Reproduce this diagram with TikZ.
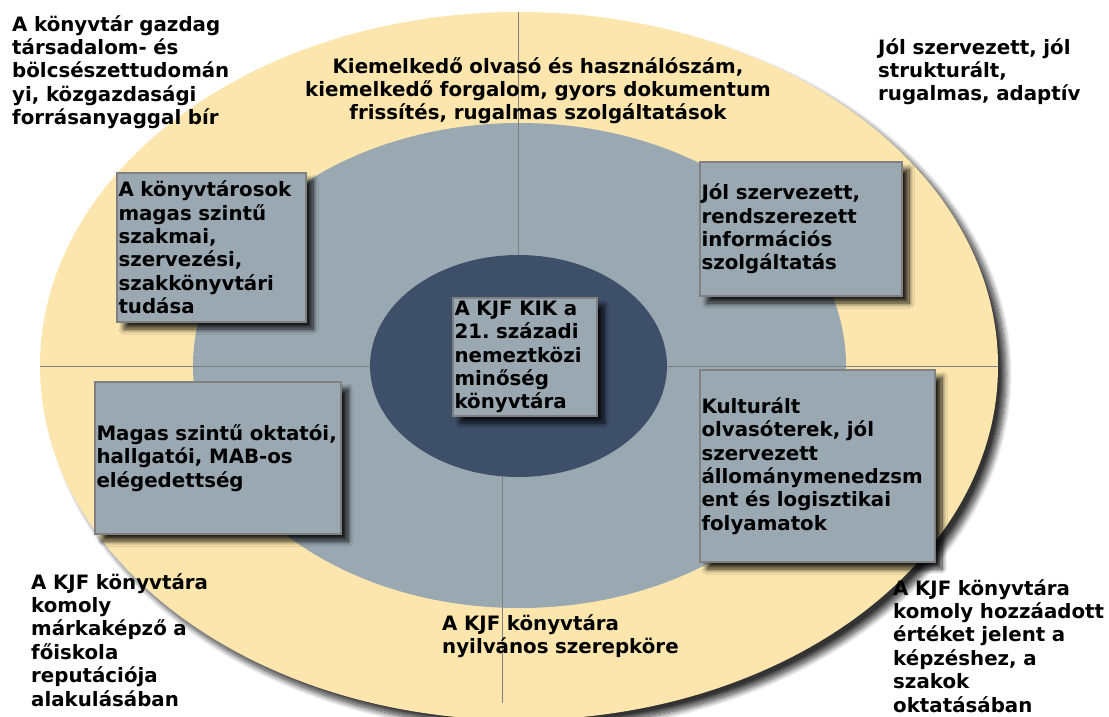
\documentclass[tikz,border=0pt]{standalone}
\usepackage{fontspec}
\setmainfont{DejaVu Sans}
\usetikzlibrary{shadows.blur}
\definecolor{ringY}{HTML}{FCE6AE}
\definecolor{ringG}{HTML}{9AA8B1}
\definecolor{ringD}{HTML}{3E4F6A}
\definecolor{lineG}{HTML}{808080}
\frenchspacing
\begin{document}
\begin{tikzpicture}[x=1pt,y=-1pt,
  txt/.style={font=\fontsize{19.8}{23.4}\selectfont\bfseries\frenchspacing, inner sep=0pt, text=black},
  lbl/.style={txt, text width=420pt, align=left, anchor=base west},
  card/.style={txt, draw=lineG, line width=1.3pt, fill=ringG, align=left, inner xsep=1.5pt, inner ysep=0pt,
     blur shadow={shadow xshift=7pt, shadow yshift=-7pt, shadow blur radius=5pt, shadow blur steps=12, shadow opacity=85}},
  divider/.style={draw=lineG, line width=1pt}]
\useasboundingbox (0,0) rectangle (1109,716);
\clip (0,0) rectangle (1109,716);
% rings
\fill[ringY, blur shadow={shadow xshift=8pt, shadow yshift=-8pt, shadow blur radius=6pt, shadow blur steps=12, shadow opacity=80}]
  (519,366) ellipse [x radius=479pt, y radius=354pt];
\fill[ringG] (519.5,365.5) ellipse [x radius=326.5pt, y radius=242.5pt];
% dividers
\coordinate (vt1) at (518,12);
\coordinate (vt2) at (518,258);
\coordinate (vb1) at (502,474);
\coordinate (vb2) at (502,703);
\coordinate (hl1) at (40,366);
\coordinate (hl2) at (372,366);
\coordinate (hr1) at (665,366);
\coordinate (hr2) at (998,366);
\draw[divider] (vt1) -- (vt2);
\draw[divider] (vb1) -- (vb2);
\draw[divider] (hl1) -- (hl2);
\draw[divider] (hr1) -- (hr2);
\fill[ringD] (518.5,366) ellipse [x radius=148.5pt, y radius=111pt];
% outer labels
\node[lbl] (tl) at (12,31) {A könyvtár gazdag\\társadalom- és\\bölcsészettudomán\\yi, közgazdasági\\forrásanyaggal bír};
\node[txt, text width=520pt, align=center, anchor=base] (tm) at (538,73) {Kiemelkedő olvasó és használószám,\\kiemelkedő forgalom, gyors dokumentum\\frissítés, rugalmas szolgáltatások};
\node[lbl] (tr) at (878,54) {Jól szervezett, jól\\strukturált,\\rugalmas, adaptív};
\node[lbl] (bl) at (31,589) {A KJF könyvtára\\komoly\\márkaképző a\\főiskola\\reputációja\\alakulásában};
\node[lbl] (bm) at (442,630) {A KJF könyvtára\\nyilvános szerepköre};
\node[lbl] (br) at (893,595) {A KJF könyvtára\\komoly hozzáadott\\értéket jelent a\\képzéshez, a\\szakok\\oktatásában};
% cards
\node[card, minimum width=189pt, text width=186pt, minimum height=149pt] (c1) at (211.5,247.5)
  {A könyvtárosok\\magas szintű\\szakmai,\\szervezési,\\szakkönyvtári\\tudása};
\node[card, minimum width=202pt, text width=199pt, minimum height=134pt] (c2) at (801,229)
  {Jól szervezett,\\rendszerezett\\információs\\szolgáltatás};
\node[card, minimum width=144pt, text width=141pt, minimum height=118pt] (c3) at (525,357)
  {A KJF KIK a\\21. századi\\nemeztközi\\minőség\\könyvtára};
\node[card, minimum width=246pt, text width=243pt, minimum height=152pt] (c4) at (218,458)
  {Magas szintű oktatói,\\hallgatói, MAB-os\\elégedettség};
\node[card, minimum width=235pt, text width=232pt, minimum height=192pt] (c5) at (817.5,466)
  {Kulturált\\olvasóterek, jól\\szervezett\\állománymenedzsm\\ent és logisztikai\\folyamatok};
\end{tikzpicture}
\end{document}
